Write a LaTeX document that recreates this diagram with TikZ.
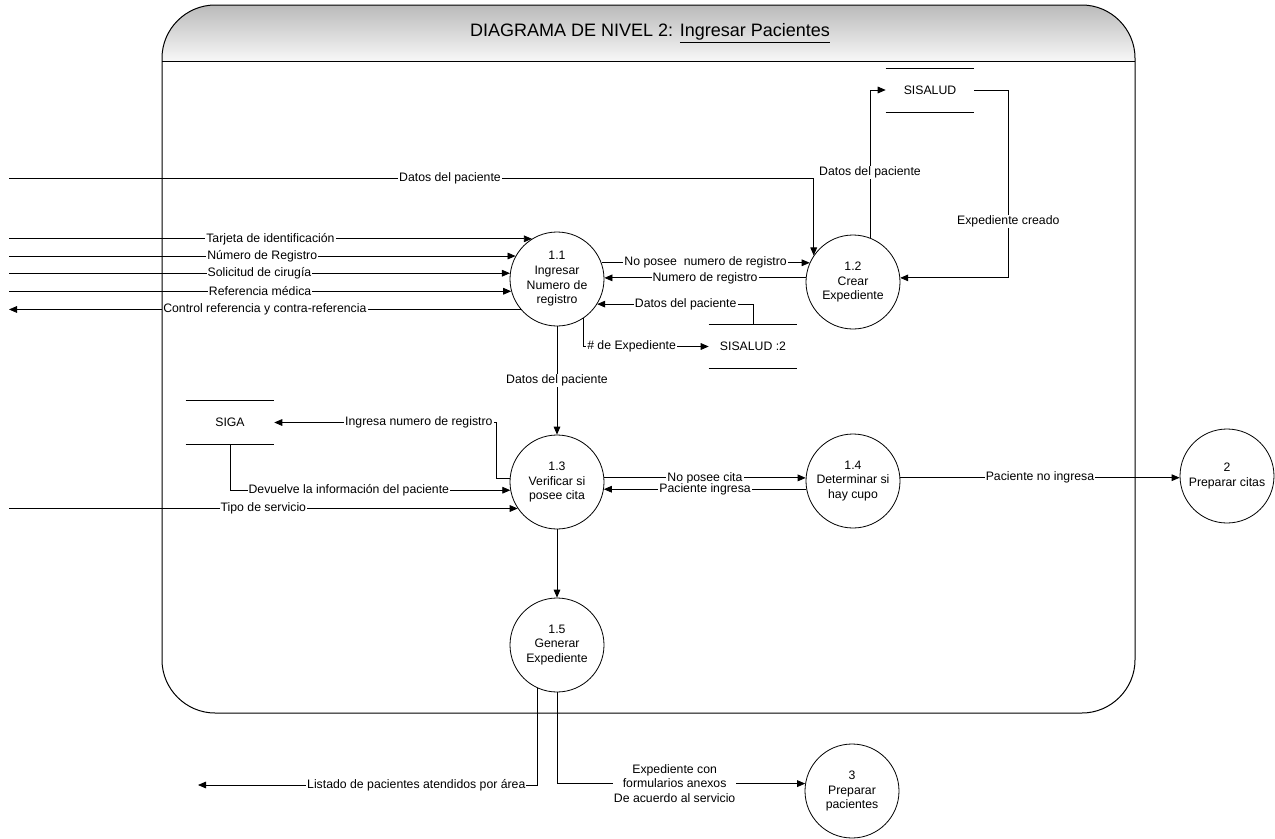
\documentclass[tikz,border=0pt]{standalone}
\usepackage{fontspec}
\setmainfont{Liberation Sans}
\usetikzlibrary{arrows.meta}

\newcommand\lblfont{\fontsize{9.2}{11}\selectfont}
\newcommand\titlefont{\fontsize{13.5}{16}\selectfont}
\newcommand\storelines[1]{%
  \draw[storeline] (#1.north west) -- (#1.north east)
                   (#1.south west) -- (#1.south east);}

\tikzset{
  flow/.style={draw, line width=0.6pt, -{Triangle[length=6pt,width=5pt]}},
  proc/.style={circle, draw, line width=0.6pt, minimum size=70.5pt, inner sep=0pt,
               align=center, font=\lblfont, fill=white},
  lbl/.style={fill=white, inner xsep=0.8pt, inner ysep=0.5pt, font=\lblfont},
  store/.style={minimum width=66pt, minimum height=32.5pt, inner sep=0pt, font=\lblfont},
  storeline/.style={line width=0.6pt},
  frameline/.style={line width=0.75pt},
}

\begin{document}
\begin{tikzpicture}[x=0.75pt, y=-0.75pt]
\useasboundingbox (0,0) rectangle (1275,839);
\fill[white] (0,0) rectangle (1275,839);

% header band of the level-2 frame
\shade[top color=black!27, bottom color=black!3]
  (162,61) -- (162,58) .. controls (162,29) and (186,5) .. (215,5)
  -- (1082,5) .. controls (1111,5) and (1135,29) .. (1135,58) -- (1135,61) -- cycle;
\node[font=\titlefont] (title) at (650,33) {DIAGRAMA DE NIVEL 2: \underline{Ingresar Pacientes}};

% processes
\node[proc] (p11) at (557,279) {1.1\\Ingresar\\Numero de\\registro};
\node[proc] (p12) at (853,282) {1.2\\Crear\\Expediente};
\node[proc] (p13) at (557,482) {1.3\\Verificar si\\posee cita};
\node[proc] (p14) at (853,481) {1.4\\Determinar si\\hay cupo};
\node[proc] (p2)  at (1227,476) {2\\Preparar citas};
\node[proc] (p15) at (557,645) {1.5\\Generar\\Expediente};
\node[proc] (p3)  at (852,791) {3\\Preparar\\pacientes};

% data stores
\node[store] (s1) at (930,90) {SISALUD};
\node[store] (s2) at (753,346.5) {SISALUD :2};
\node[store] (s3) at (230,422.5) {SIGA};
\storelines{s1}
\storelines{s2}
\storelines{s3}

% free ends of external flows
\coordinate (W) at (9,0);
\coordinate (inDatos) at (9,178);
\coordinate (outL) at (198,785);

% flows into and out of 1.1
\draw[flow] (inDatos) -| node[lbl,pos=0.274]{Datos del paciente} (p12.146);
\draw[flow] (W |- p11.122) -- node[lbl]{Tarjeta de identificación} (p11.122);
\draw[flow] (W |- p11.151) -- node[lbl]{Número de Registro} (p11.151);
\draw[flow] (W |- p11.173) -- node[lbl]{Solicitud de cirugía} (p11.173);
\draw[flow] (W |- p11.195) -- node[lbl]{Referencia médica} (p11.195);
\draw[flow] (p11.220) -- node[lbl]{Control referencia y contra-referencia} (W |- p11.220);

\draw[flow] (p11.20) -- node[lbl]{No posee~ numero de registro} (p11.20 -| p12.156);
\draw[flow] (p12.175) -- node[lbl]{Numero de registro} (p12.175 -| p11.east);
\draw[flow] (s2.north) |- node[lbl,pos=0.716]{Datos del paciente} (p11.-32);
\draw[flow] (p11.-56) |- node[lbl,pos=0.692]{\# de Expediente} (s2.west);
\draw[flow] (p11.south) -- node[lbl]{Datos del paciente} (p13.north);

% 1.2 and SISALUD
\draw[flow] (p12.69) |- node[lbl,pos=0.22]{Datos del paciente} (s1.west);
\draw[flow] (s1.east) -- ++(34,0) |- node[lbl,pos=0.35]{Expediente creado} (p12.5);

% 1.3, SIGA and 1.4
\draw[flow] (p13.176) -- ++(-13,0) |- node[lbl,pos=0.675]{Ingresa numero de registro} (s3.east);
\draw[flow] (s3.south) |- node[lbl,pos=0.712]{Devuelve la información del paciente} (p13.190);
\draw[flow] (W |- p13.214) -- node[lbl]{Tipo de servicio} (p13.214);
\draw[flow] (p13.5) -- node[lbl]{No posee cita} (p13.5 -| p14.176);
\draw[flow] (p14.190) -- node[lbl]{Paciente ingresa} (p14.190 -| p13.-9);
\draw[flow] (p14.4) -- node[lbl]{Paciente no ingresa} (p14.4 -| p2.182);
\draw[flow] (p13.south) -- (p15.north);

% outputs of 1.5
\draw[flow] (p15.245) |- node[lbl,pos=0.678]{Listado de pacientes atendidos por área} (outL);
\draw[flow] (p15.south) |- node[lbl,pos=0.737,align=center]{Expediente con\\formularios anexos\\De acuerdo al servicio} (p3.171);

% frame outline and header rule
\draw[frameline] (162,58) .. controls (162,29) and (186,5) .. (215,5)
  -- (1082,5) .. controls (1111,5) and (1135,29) .. (1135,58)
  -- (1135,660) .. controls (1135,689) and (1111,713) .. (1082,713)
  -- (215,713) .. controls (186,713) and (162,689) .. (162,660) -- cycle;
\draw[frameline] (162,61) -- (1135,61);
\end{tikzpicture}
\end{document}
